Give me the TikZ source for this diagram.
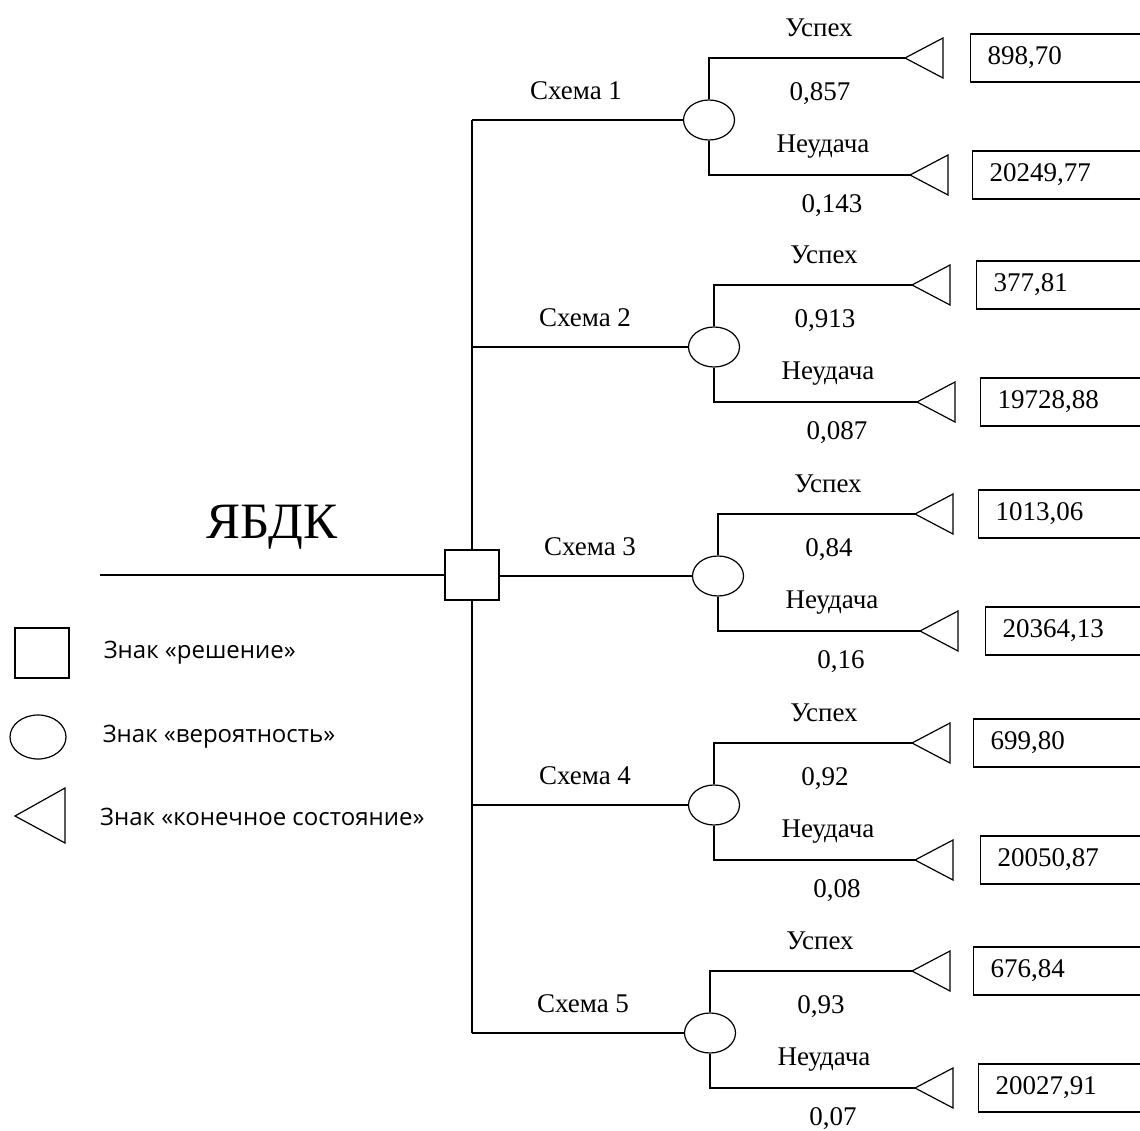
\documentclass[tikz,border=0pt]{standalone}
\usepackage{fontspec}
\setmainfont{Liberation Serif}
\newfontfamily\keyfont{Open Sans}
\usetikzlibrary{shapes.geometric, positioning}
\tikzstyle{decision} = [rectangle, draw=black, fill=white, line width=1.2pt, minimum width=54pt, minimum height=50pt, inner sep=0pt]
\tikzstyle{chance} = [ellipse, draw=black, fill=white, line width=1.2pt, minimum width=51pt, minimum height=40pt, inner sep=0pt]
\tikzstyle{payoff} = [rectangle, draw=black, line width=1.2pt, anchor=west, minimum height=48pt, text width=170pt, inner xsep=17pt, align=left, font=\fontsize{27}{30}\selectfont]
\tikzstyle{txt} = [font=\fontsize{27}{30}\selectfont]
\tikzstyle{keytxt} = [anchor=west, inner sep=0pt, font=\keyfont\fontsize{24}{28}\selectfont]
\tikzstyle{line} = [draw, line width=1.2pt]

\begin{document}
\begin{tikzpicture}[x=1pt, y=-1pt]
    \useasboundingbox (0,0) rectangle (1140,1131);
    \clip (0,0) rectangle (1140,1131);
    % Schemes
    \foreach \i/\yb/\xc/\xt/\xb/\bt/\bb/\xs/\vt/\vb/\pt/\pb in {
        1/120/709/905/910/970/972/576/{898,70}/{20249,77}/{0,857}/{0,143},
        2/347/714/912/917/976/980/585/{377,81}/{19728,88}/{0,913}/{0,087},
        3/576/718/915/920/978/985/590/{1013,06}/{20364,13}/{0,84}/{0,16},
        4/805/714/912/915/973/980/585/{699,80}/{20050,87}/{0,92}/{0,08},
        5/1033/710/912/915/973/978/583/{676,84}/{20027,91}/{0,93}/{0,07}} {
        \coordinate (s\i) at (472,\yb);
        \node [chance] (c\i) at (\xc,\yb) {};
        \node [txt] (name\i) at (\xs,\yb-29) {Схема \i};
        \coordinate (tt\i) at (\xt,\yb-62);
        \coordinate (tb\i) at (\xb,\yb+55);
        \node [payoff] (vt\i) at (\bt,\yb-62) {\vt};
        \node [payoff] (vb\i) at (\bb,\yb+55) {\vb};
        \node [txt] (ok\i) at (\xc+110,\yb-92) {Успех};
        \node [txt] (pok\i) at (\xc+111,\yb-26) {\pt};
        \node [txt] (fail\i) at (\xc+114,\yb+27) {Неудача};
        \node [txt] (pfail\i) at (\xc+123,\yb+86) {\pb};
        \path [line] (s\i) -- (c\i.west);
        \path [line] (c\i.north) |- (tt\i);
        \path [line] (c\i.south) |- (tb\i);
        \path [line] (tt\i) -- ++(38,-20) -- ++(0,40) -- cycle;
        \path [line] (tb\i) -- ++(38,-20) -- ++(0,40) -- cycle;
    }

    % Root
    \node [decision] (root) at (472,575) {};
    \coordinate (start) at (100,575);
    \node [font=\fontsize{51}{55}\selectfont] (title) at (272,527) {ЯБДК};
    \path [line] (start) -- (root.west);
    \path [line] (s1) -- (root.north);
    \path [line] (root.south) -- (s5);

    % Legend
    \node [decision] (keydec) at (42,653) {};
    \node [chance, minimum width=56pt, minimum height=44pt] (keyprob) at (38,737) {};
    \coordinate (keyend) at (15,816);
    \path [line] (keyend) -- ++(50,-28) -- ++(0,55) -- cycle;
    \node [keytxt, right=34pt of keydec] (keydectxt) {Знак «решение»};
    \node [keytxt, right=36pt of keyprob] (keyprobtxt) {Знак «вероятность»};
    \node [keytxt] (keyendtxt) at (100,817) {Знак «конечное состояние»};
\end{tikzpicture}
\end{document}
